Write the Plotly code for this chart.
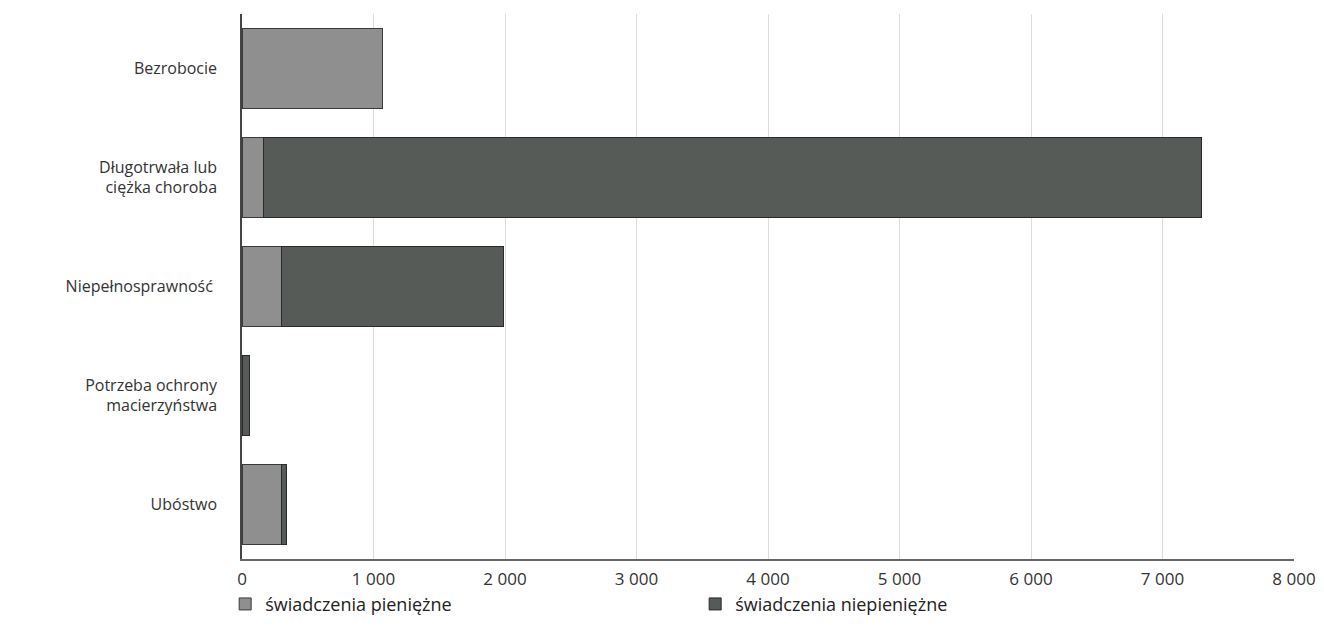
import plotly.graph_objects as go

categories = ["Bezrobocie", "Długotrwała lub<br>ciężka choroba", "Niepełnosprawność ",
              "Potrzeba ochrony<br>macierzyństwa", "Ubóstwo"]
pieniezne = [1065, 160, 297, None, 300]
niepieniezne = [None, 7140, 1688, 55, 35]
tick_vals = [0, 1000, 2000, 3000, 4000, 5000, 6000, 7000, 8000]
tick_text = ["0", "1 000", "2 000", "3 000", "4 000", "5 000", "6 000", "7 000", "8 000"]

fig = go.Figure()
fig.add_trace(go.Bar(y=categories, x=pieniezne, orientation="h", name="świadczenia pieniężne",
                     marker=dict(color="#8f8f8f", line=dict(color="#3a3a3a", width=1))))
fig.add_trace(go.Bar(y=categories, x=niepieniezne, orientation="h", name="świadczenia niepieniężne",
                     marker=dict(color="#575b57", line=dict(color="#2a2a2a", width=1))))

fig.update_layout(
    barmode="stack", bargap=0.27,
    width=1324, height=640,
    margin=dict(l=234, r=38, t=6, b=89),
    plot_bgcolor="white", paper_bgcolor="white",
    font=dict(family="Open Sans", size=16, color="#333333"),
    legend=dict(orientation="h", x=-0.016, xanchor="left", y=-0.083, yanchor="middle",
                font=dict(size=18, color="#222222"), entrywidth=425, entrywidthmode="pixels",
                traceorder="normal"),
    xaxis=dict(range=[0, 8000], tickvals=tick_vals, ticktext=tick_text, showgrid=True,
               gridcolor="#dcdcdc", gridwidth=1, zeroline=False, showline=True,
               linecolor="#666666", linewidth=1.5, ticks="outside", ticklen=4,
               tickcolor="rgba(255,255,255,0)", tickfont=dict(size=17, color="#333333")),
    yaxis=dict(categoryorder="array", categoryarray=categories, autorange="reversed",
               showline=True, linecolor="#444444", linewidth=1.5, ticks="outside",
               ticklen=20, tickcolor="rgba(255,255,255,0)", tickfont=dict(size=16)),
)
fig.write_html("out.html")
